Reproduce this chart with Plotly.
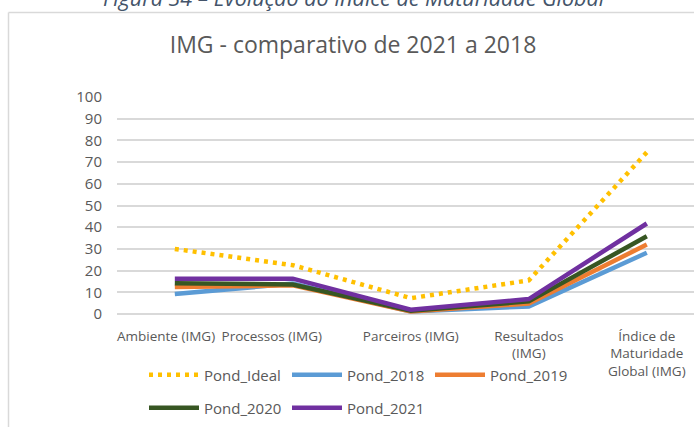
import plotly.graph_objects as go

categories = ["Ambiente (IMG)", "Processos (IMG)", "Parceiros (IMG)",
              "Resultados (IMG)", "Índice de Maturidade Global (IMG)"]
tick_labels = ["Ambiente (IMG)" + "\u00a0" * 5,
               "Processos (IMG)" + "\u00a0" * 12,
               "Parceiros (IMG)",
               "Resultados<br>(IMG)",
               "Índice de<br>Maturidade<br>Global (IMG)"]

pond_ideal = [30, 22.5, 7.3, 15.5, 74.5]
pond_2018 = [9.2, 14, 1.2, 3.5, 28.2]
pond_2019 = [12.4, 13.2, 1.2, 4.8, 32]
pond_2020 = [14.2, 13.6, 1.5, 5.8, 35.8]
pond_2021 = [16.3, 16.3, 2.0, 6.9, 41.7]

series_names = ["Pond_Ideal", "Pond_2018", "Pond_2019", "Pond_2020", "Pond_2021"]
series_values = [pond_ideal, pond_2018, pond_2019, pond_2020, pond_2021]
colors = ["#FFC000", "#5B9BD5", "#ED7D31", "#375623", "#7030A0"]
legends = ["legend", "legend", "legend", "legend2", "legend2"]

FONT = "Open Sans"
x_idx = list(range(len(categories)))

fig = go.Figure()
for name, vals, col, lg in zip(series_names, series_values, colors, legends):
    dash = "4px,5px" if name == "Pond_Ideal" else "solid"
    fig.add_trace(go.Scatter(
        x=x_idx, y=vals, mode="lines", name=name,
        line=dict(color=col, width=4.5, dash=dash),
        legend=lg, hoverinfo="skip",
    ))

W, H = 694, 427
L, R, T, B = 117, 0, 97, 113
pw = W - L - R
ph = H - T - B

def px_x(px):
    return (px - L) / pw

def px_y(py):
    return (H - B - py) / ph

legend_common = dict(
    orientation="h", xref="container", yref="container",
    xanchor="left", yanchor="middle",
    font=dict(family=FONT, size=15, color="#595959"),
    bgcolor="rgba(0,0,0,0)", borderwidth=0,
    entrywidth=78, itemwidth=50, tracegroupgap=0,
)

fig.update_layout(
    width=W, height=H,
    margin=dict(l=L, r=R, t=T, b=B, pad=0, autoexpand=False),
    paper_bgcolor="white", plot_bgcolor="white",
    showlegend=True,
    title=dict(text="IMG - comparativo de 2021 a 2018",
               x=353 / W, xref="container", xanchor="center",
               y=1 - 45 / H, yref="container", yanchor="middle",
               font=dict(family=FONT, size=23, color="#595959")),
    xaxis=dict(range=[-0.49, 4.40], tickmode="array", tickvals=x_idx,
               ticktext=tick_labels, showgrid=False, zeroline=False,
               showline=False, ticks="", ticklabelstandoff=12, tickangle=0,
               automargin=False,
               tickfont=dict(family=FONT, size=13.5, color="#595959"),
               fixedrange=True),
    yaxis=dict(range=[0, 100], dtick=10, tick0=0, showgrid=True,
               gridcolor="#D9D9D9", gridwidth=1.5, zeroline=True,
               zerolinecolor="#D9D9D9", zerolinewidth=1.5, showline=False,
               ticks="", ticklabelstandoff=14, automargin=False,
               tickfont=dict(family=FONT, size=15, color="#595959"),
               fixedrange=True),
    legend=dict(x=144 / W, y=1 - 375 / H, **legend_common),
    legend2=dict(x=144 / W, y=1 - 408 / H, **legend_common),
)

# caption (cut off at the top in the reference)
fig.add_annotation(text="<i>Figura 34 – Evolução do Índice de Maturidade Global</i>",
                   xref="paper", yref="paper", x=px_x(354), y=px_y(-3),
                   xanchor="center", yanchor="middle", showarrow=False,
                   font=dict(family=FONT, size=21.5, color="#44546A"))

# chart frame
fig.add_shape(type="line", xref="paper", yref="paper",
              x0=px_x(8.5), x1=px_x(720), y0=px_y(12.5), y1=px_y(12.5),
              line=dict(color="#D9D9D9", width=1.5))
fig.add_shape(type="line", xref="paper", yref="paper",
              x0=px_x(8.5), x1=px_x(8.5), y0=px_y(12.5), y1=px_y(440),
              line=dict(color="#D9D9D9", width=1.5))

fig.write_html("out.html", config={"displayModeBar": False},
               post_script="document.body.style.margin='0';document.body.style.overflow='hidden';")
